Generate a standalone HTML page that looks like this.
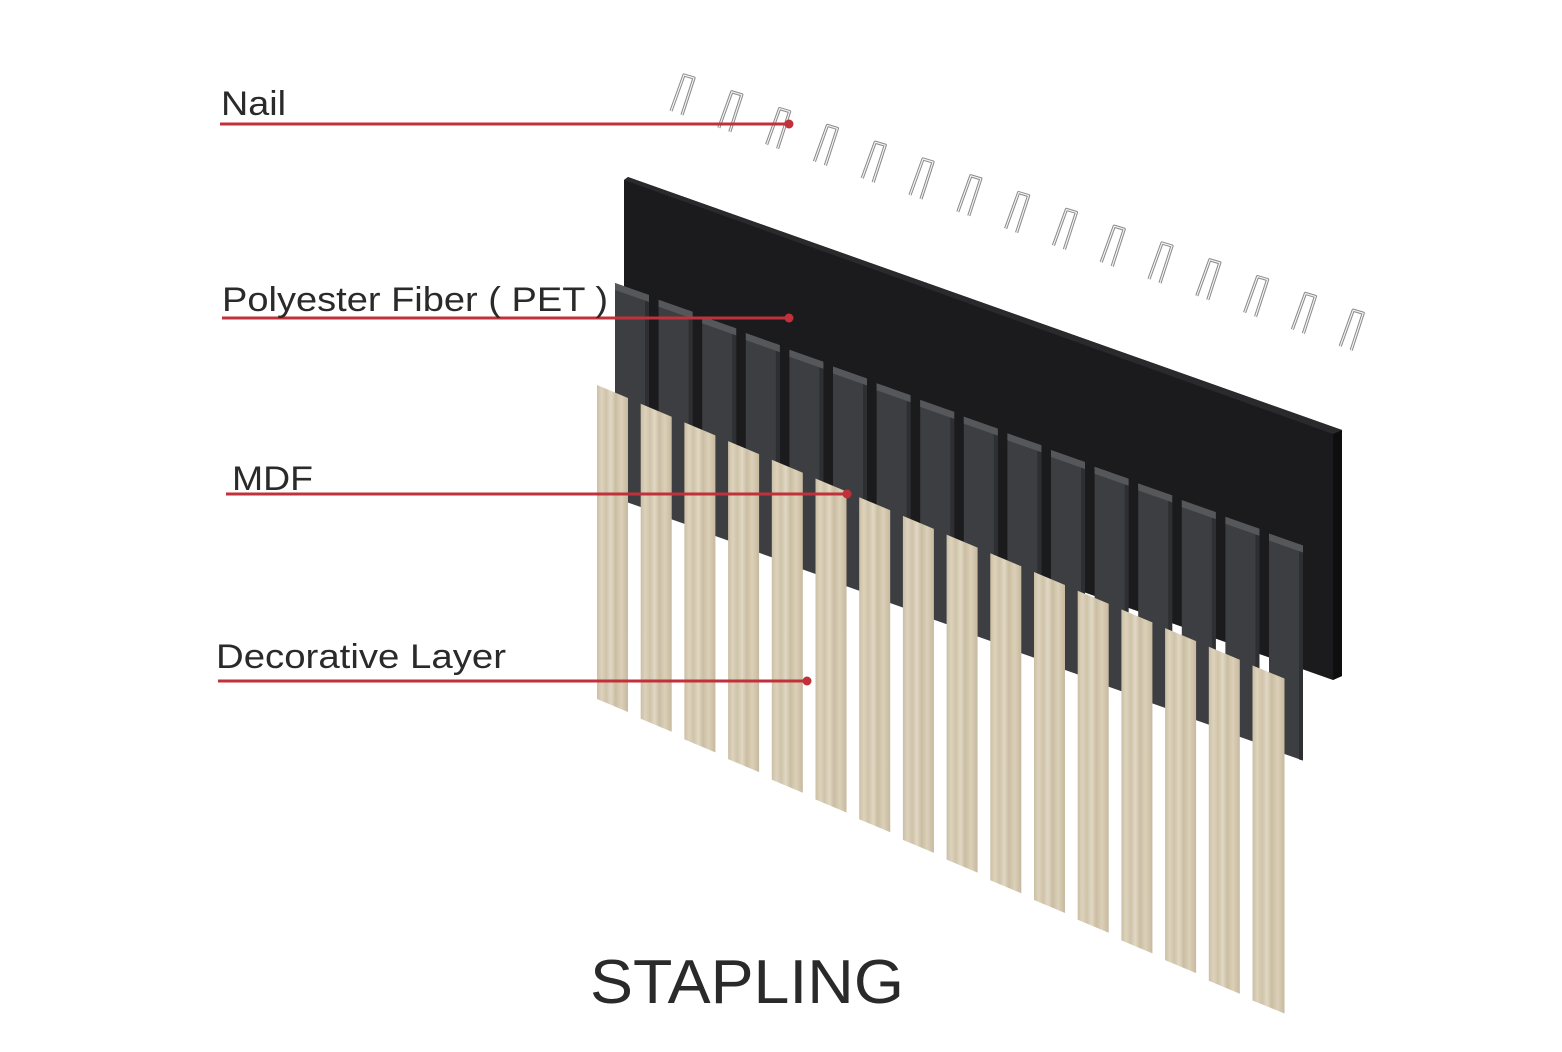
<!DOCTYPE html>
<html><head><meta charset="utf-8"><style>
html,body{margin:0;padding:0;background:#fff;}
svg{display:block;}
text{font-family:"Liberation Sans",sans-serif;fill:#2a2a2a;}
</style></head><body>
<svg width="1562" height="1052" viewBox="0 0 1562 1052" xmlns="http://www.w3.org/2000/svg">
<defs>
<linearGradient id="wood" x1="0" x2="1" y1="0" y2="0">
<stop offset="0" stop-color="#cbbfa6"/><stop offset="0.15" stop-color="#ddd2bb"/>
<stop offset="0.3" stop-color="#cfc3a9"/><stop offset="0.45" stop-color="#e1d8c4"/>
<stop offset="0.6" stop-color="#cabda2"/><stop offset="0.78" stop-color="#dbd0b8"/>
<stop offset="1" stop-color="#c6b99e"/>
</linearGradient>
<g id="ds">
<polygon points="0,0 34,12 34,227 0,215" fill="#3d3e42"/>
<polygon points="30,10 34,12 34,227 30,226" fill="#2e2f32"/>
<polygon points="0,0 34,12 34,19 0,7" fill="#56575b"/>
</g>
<g id="nl" fill="none">
<path d="M0,36 L13,0 L23,3 L11,40" stroke="#8a8a8a" stroke-width="3.2" stroke-linejoin="round"/>
<path d="M0,36 L13,0 L23,3 L11,40" stroke="#f4f4f4" stroke-width="1.2" stroke-linejoin="round"/>
</g>
</defs>

<use href="#nl" x="671" y="75"/>
<use href="#nl" x="718.8" y="91.8"/>
<use href="#nl" x="766.6" y="108.6"/>
<use href="#nl" x="814.4" y="125.4"/>
<use href="#nl" x="862.2" y="142.2"/>
<use href="#nl" x="910" y="159"/>
<use href="#nl" x="957.8" y="175.8"/>
<use href="#nl" x="1005.6" y="192.6"/>
<use href="#nl" x="1053.4" y="209.4"/>
<use href="#nl" x="1101.2" y="226.2"/>
<use href="#nl" x="1149" y="243"/>
<use href="#nl" x="1196.8" y="259.8"/>
<use href="#nl" x="1244.6" y="276.6"/>
<use href="#nl" x="1292.4" y="293.4"/>
<use href="#nl" x="1340.2" y="310.2"/>

<polygon points="624,180 628,177 1342,430 1342,676 1333,680 624,430" fill="#1b1a1c"/>
<polygon points="1333,432 1342,430 1342,676 1333,680" fill="#0e0e0f"/>
<polygon points="624,180 628,177 1342,430 1333,434" fill="#2a2a2c"/>

<use href="#ds" x="615" y="283"/>
<use href="#ds" x="658.6" y="299.7"/>
<use href="#ds" x="702.2" y="316.4"/>
<use href="#ds" x="745.8" y="333.1"/>
<use href="#ds" x="789.4" y="349.8"/>
<use href="#ds" x="833" y="366.5"/>
<use href="#ds" x="876.6" y="383.2"/>
<use href="#ds" x="920.2" y="399.9"/>
<use href="#ds" x="963.8" y="416.6"/>
<use href="#ds" x="1007.4" y="433.3"/>
<use href="#ds" x="1051" y="450"/>
<use href="#ds" x="1094.6" y="466.7"/>
<use href="#ds" x="1138.2" y="483.4"/>
<use href="#ds" x="1181.8" y="500.1"/>
<use href="#ds" x="1225.4" y="516.8"/>
<use href="#ds" x="1269" y="533.5"/>

<g fill="url(#wood)">
<polygon transform="translate(597,385)" points="0,0 31,13 31,327 0,314"/>
<polygon transform="translate(640.7,403.7)" points="0,0 31,13 31,328 0,315"/>
<polygon transform="translate(684.4,422.4)" points="0,0 31,13 31,330 0,317"/>
<polygon transform="translate(728.1,441.1)" points="0,0 31,13 31,331 0,318"/>
<polygon transform="translate(771.8,459.8)" points="0,0 31,13 31,333 0,320"/>
<polygon transform="translate(815.5,478.5)" points="0,0 31,13 31,334 0,321"/>
<polygon transform="translate(859.2,497.2)" points="0,0 31,13 31,335 0,322"/>
<polygon transform="translate(902.9,515.9)" points="0,0 31,13 31,337 0,324"/>
<polygon transform="translate(946.6,534.6)" points="0,0 31,13 31,338 0,325"/>
<polygon transform="translate(990.3,553.3)" points="0,0 31,13 31,340 0,327"/>
<polygon transform="translate(1034,572)" points="0,0 31,13 31,341 0,328"/>
<polygon transform="translate(1077.7,590.7)" points="0,0 31,13 31,342 0,329"/>
<polygon transform="translate(1121.4,609.4)" points="0,0 31,13 31,344 0,331"/>
<polygon transform="translate(1165.1,628.1)" points="0,0 31,13 31,345 0,332"/>
<polygon transform="translate(1208.8,646.8)" points="0,0 31,13 31,347 0,334"/>
<polygon transform="translate(1252.5,665.5)" points="0,0 32,13 32,348 0,335"/>
</g>

<g stroke="#c0313b" stroke-width="3">
<line x1="220" y1="124" x2="788" y2="124"/>
<line x1="222" y1="318" x2="788" y2="318"/>
<line x1="226" y1="494" x2="846" y2="494"/>
<line x1="218" y1="681" x2="806" y2="681"/>
</g>
<g fill="#c0313b">
<circle cx="789" cy="124" r="4.5"/>
<circle cx="789" cy="318" r="4.5"/>
<circle cx="847" cy="494" r="4.5"/>
<circle cx="807" cy="681" r="4.5"/>
</g>
<text x="221" y="115" font-size="34" textLength="65" lengthAdjust="spacingAndGlyphs">Nail</text>
<text x="222" y="311" font-size="34" textLength="386" lengthAdjust="spacingAndGlyphs">Polyester Fiber ( PET )</text>
<text x="232" y="490" font-size="34" textLength="81" lengthAdjust="spacingAndGlyphs">MDF</text>
<text x="216" y="668" font-size="34" textLength="290" lengthAdjust="spacingAndGlyphs">Decorative Layer</text>
<text x="747" y="1003" font-size="62" text-anchor="middle" textLength="314" lengthAdjust="spacingAndGlyphs">STAPLING</text>
</svg>
</body></html>
